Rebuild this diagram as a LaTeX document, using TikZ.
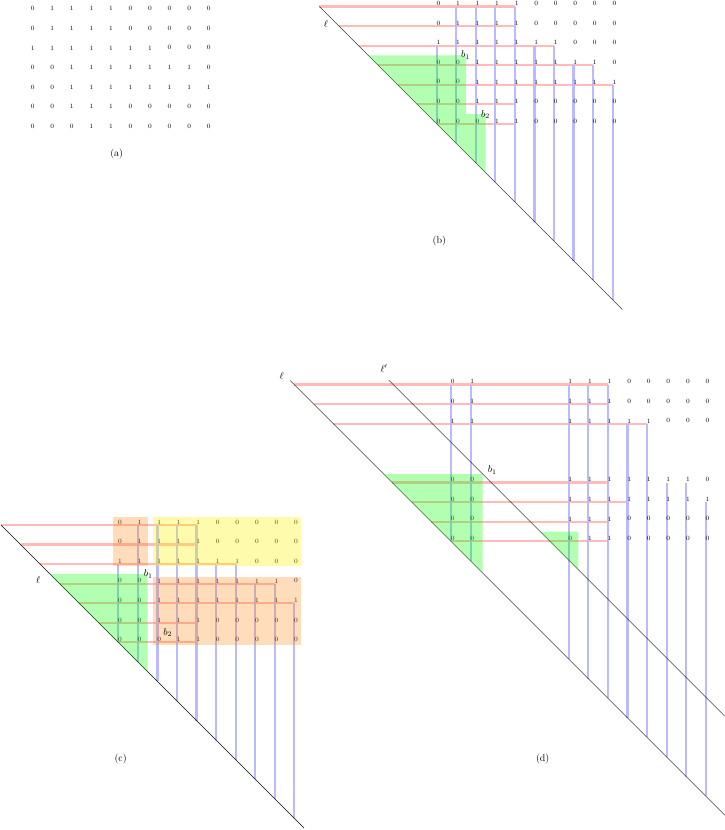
\documentclass[tikz,border=0pt]{standalone}
\begin{document}
\begin{tikzpicture}[x=1pt,y=-1pt,
  dig/.style={inner sep=0pt,font=\fontsize{6.5}{7}\selectfont},
  redl/.style={draw=red!27,line width=2.2pt},
  bluel/.style={draw=blue!27,line width=2.2pt},
  diag/.style={black,line width=0.4pt},
  greenf/.style={fill=green,fill opacity=0.3},
  orangef/.style={fill=orange,fill opacity=0.27},
  yellowf/.style={fill=yellow,fill opacity=0.32},
  lab/.style={inner sep=0pt}]
\useasboundingbox (0,0) rectangle (724,830);
\def\matrows{{0,1,1,1,1,0,0,0,0,0},{0,1,1,1,1,0,0,0,0,0},{1,1,1,1,1,1,1,0,0,0},{0,0,1,1,1,1,1,1,1,0},{0,0,1,1,1,1,1,1,1,1},{0,0,1,1,1,0,0,0,0,0},{0,0,0,1,1,0,0,0,0,0}}

% ---------------- (a)
\foreach \row [count=\i from 0] in \matrows {
  \foreach \v [count=\j from 0] in \row {
    \node[dig] (a-\i-\j) at ({32.7+19.55*\j},{8.7+19.6*\i}) {\v};
  }
}
\node[lab] (capa) at (116.7,154) {(a)};

% ---------------- (b)
\begin{scope}[shift={(436.7,6.5)},x=19.55pt,y=-19.55pt]
  \foreach \i/\e in {0/4,1/4,2/6,3/8,4/9,5/4,6/4}
    \draw[redl] (\i-6,\i) -- (\e,\i);
  \foreach \j/\st in {0/2,1/0,2/0,3/0,4/0,5/2,6/2,7/3,8/3,9/4}
    \draw[bluel] (\j,\st) -- (\j,\j+6);
  \draw[diag] (-6,0) -- (9.5,15.5);
  \foreach \row [count=\i from 0] in \matrows {
    \foreach \v [count=\j from 0] in \row {
      \node[dig,xshift=1.7pt,yshift=2.8pt] (b-\i-\j) at (\j,\i) {\v};
    }
  }
  \fill[greenf] (-3.5,2.5) -- (1.5,2.5) -- (1.5,5.5) -- (2.5,5.5) -- (2.5,8.5) -- cycle;
\end{scope}
\node[lab] (lb) at (326,24) {$\ell$};
\node[lab] (b1b) at (465.5,55) {$b_1$};
\node[lab] (b2b) at (485.5,114.5) {$b_2$};
\node[lab] (capb) at (439.3,240.7) {(b)};

% ---------------- (c)
\begin{scope}[shift={(118.3,525)},x=19.55pt,y=-19.55pt]
  \foreach \i/\e in {0/4,1/4,2/6,3/8,4/9,5/4,6/4}
    \draw[redl] (\i-6,\i) -- (\e,\i);
  \foreach \j/\st in {0/2,1/0,2/0,3/0,4/0,5/2,6/2,7/3,8/3,9/4}
    \draw[bluel] (\j,\st) -- (\j,\j+6);
  \draw[diag] (-6,0) -- (9.5,15.5);
  \foreach \row [count=\i from 0] in \matrows {
    \foreach \v [count=\j from 0] in \row {
      \node[dig,xshift=1.7pt,yshift=2.8pt] (c-\i-\j) at (\j,\i) {\v};
    }
  }
  \fill[greenf] (-3.5,2.5) -- (1.5,2.5) -- (1.5,7.5) -- cycle;
  \fill[orangef] (-0.25,-0.4) rectangle (1.5,2.12);
  \fill[yellowf] (1.75,-0.4) rectangle (9.32,2.12);
  \fill[orangef] (1.75,2.64) rectangle (9.32,6.15);
\end{scope}
\node[lab] (lc) at (38.3,580) {$\ell$};
\node[lab] (b1c) at (148.3,574) {$b_1$};
\node[lab] (b2c) at (167.7,632.7) {$b_2$};
\node[lab] (capc) at (120.7,759.3) {(c)};

% ---------------- (d)
\begin{scope}[shift={(451,384.5)},x=19.6pt,y=-19.6pt]
  \foreach \gy/\e in {0/8,1/8,2/10,5/8,6/9,7/8,8/8}
    \draw[redl] (\gy-8,\gy) -- (\e,\gy);
  \foreach \gx/\st in {0/0,1/0,6/0,7/0,8/0,9/2,10/2,11/5,12/5,13/6}
    \draw[bluel] (\gx,\st) -- (\gx,\gx+8);
  \draw[diag] (-8.2,-0.2) -- (13.97,21.97);
  \draw[diag] (-3.17,-0.22) -- (13.95,16.9);
  \foreach \row [count=\i from 0] in \matrows {
    \foreach \v [count=\j from 0] in \row {
      \pgfmathtruncatemacro\gx{\j<2 ? \j : \j+4}
      \pgfmathtruncatemacro\gy{\i<3 ? \i : \i+2}
      \node[dig,xshift=1.7pt,yshift=2.8pt] (d-\i-\j) at (\gx,\gy) {\v};
    }
  }
  \fill[greenf] (-3.434,4.566) -- (1.612,4.566) -- (1.612,9.612) -- cycle;
  \fill[greenf] (4.546,7.5) -- (6.5,7.5) -- (6.5,9.454) -- cycle;
\end{scope}
\node[lab] (ld) at (281.7,376.5) {$\ell$};
\node[lab] (ldp) at (384,368.3) {$\ell'$};
\node[lab] (b1d) at (492.3,470) {$b_1$};
\node[lab] (capd) at (542.7,759.3) {(d)};
\end{tikzpicture}
\end{document}
